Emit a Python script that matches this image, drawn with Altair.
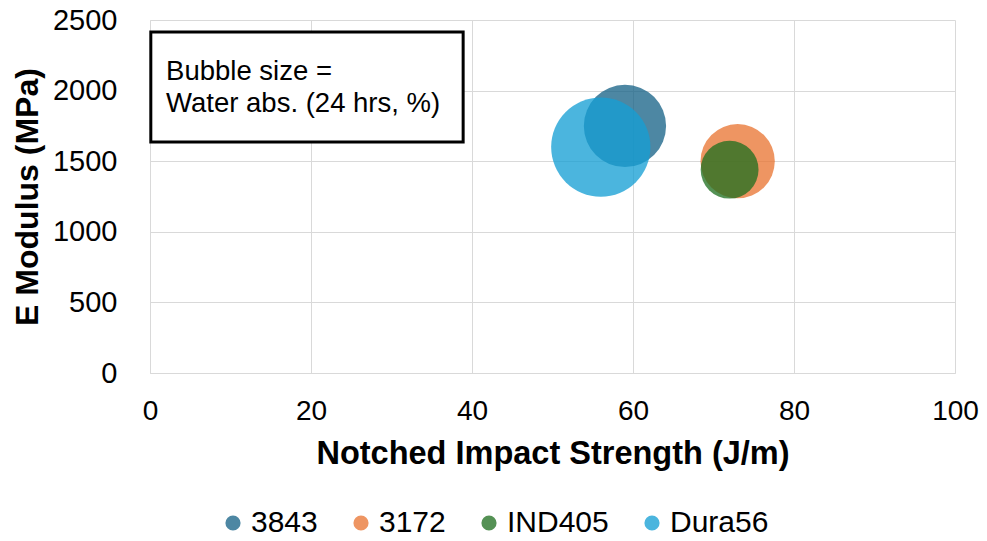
import altair as alt
import pandas as pd

grades = ["3843", "3172", "IND405", "Dura56"]
impact = [59, 73, 72, 56]
modulus = [1750, 1500, 1440, 1600]
water_abs = [1.03, 0.84, 0.51, 1.50]
colors = ["#186387", "#E97533", "#217021", "#159FD4"]

box_x = [0.1]
box_x2 = [38.9]
box_y = [2415]
box_y2 = [1636]
note_lines = ["Bubble size =", "Water abs. (24 hrs, %)"]
note_x = [2, 2]
note_y = [2075, 1848]

FONT = "Liberation Sans"

df = pd.DataFrame({
    "grade": grades,
    "impact": impact,
    "modulus": modulus,
    "water": water_abs,
    "ord": list(range(len(grades))),
})
box_df = pd.DataFrame({"x": box_x, "x2": box_x2, "y": box_y, "y2": box_y2})
note_df = pd.DataFrame({"t": note_lines, "x": note_x, "y": note_y})

xscale = alt.Scale(domain=[0, 100], nice=False)
yscale = alt.Scale(domain=[0, 2500], nice=False)

bubbles = alt.Chart(df).mark_circle(opacity=0.77).encode(
    x=alt.X("impact:Q", scale=xscale, title="Notched Impact Strength (J/m)",
            axis=alt.Axis(values=[0, 20, 40, 60, 80, 100], labelFontSize=28, format="d",
                          labelPadding=24, titleFontSize=32.5, titlePadding=12,
                          ticks=False, labelFlush=False)),
    y=alt.Y("modulus:Q", scale=yscale, title="E Modulus (MPa)",
            axis=alt.Axis(values=[0, 500, 1000, 1500, 2000, 2500], labelFontSize=29, format="d",
                          labelPadding=33, titleFontSize=32, titlePadding=8,
                          ticks=False, labelFlush=False)),
    size=alt.Size("water:Q", scale=alt.Scale(domain=[0, 1.5], range=[0, 9852]), legend=None),
    color=alt.Color("grade:N", sort=grades,
                    scale=alt.Scale(domain=grades, range=colors),
                    legend=alt.Legend(title=None, orient="none", direction="horizontal",
                                      legendX=68, legendY=488, symbolType="circle",
                                      symbolSize=230, labelFontSize=30, columnPadding=28,
                                      symbolOpacity=0.77, labelOffset=3, labelLimit=300)),
    order=alt.Order("ord:Q"),
)

box = alt.Chart(box_df).mark_rect(fill="white", stroke="black", strokeWidth=3).encode(
    x="x:Q", x2="x2:Q", y="y:Q", y2="y2:Q"
)

note = alt.Chart(note_df).mark_text(align="left", baseline="alphabetic", fontSize=27.5,
                                    font=FONT, color="black").encode(
    x="x:Q", y="y:Q", text="t:N"
)

chart = alt.layer(bubbles, box, note).properties(
    width=805, height=353,
    autosize=alt.AutoSizeParams(type="none"),
    padding={"left": 142, "top": 12, "right": 24, "bottom": 160},
).configure_view(stroke=None).configure_axis(
    gridColor="#d9d9d9", domainColor="#d9d9d9", labelColor="black", titleColor="black",
    labelFont=FONT, titleFont=FONT, titleFontWeight="bold", labelFontWeight="normal",
).configure_legend(labelFont=FONT, labelColor="black")

chart.save("out.html", embed_options={"renderer": "svg", "actions": False})
